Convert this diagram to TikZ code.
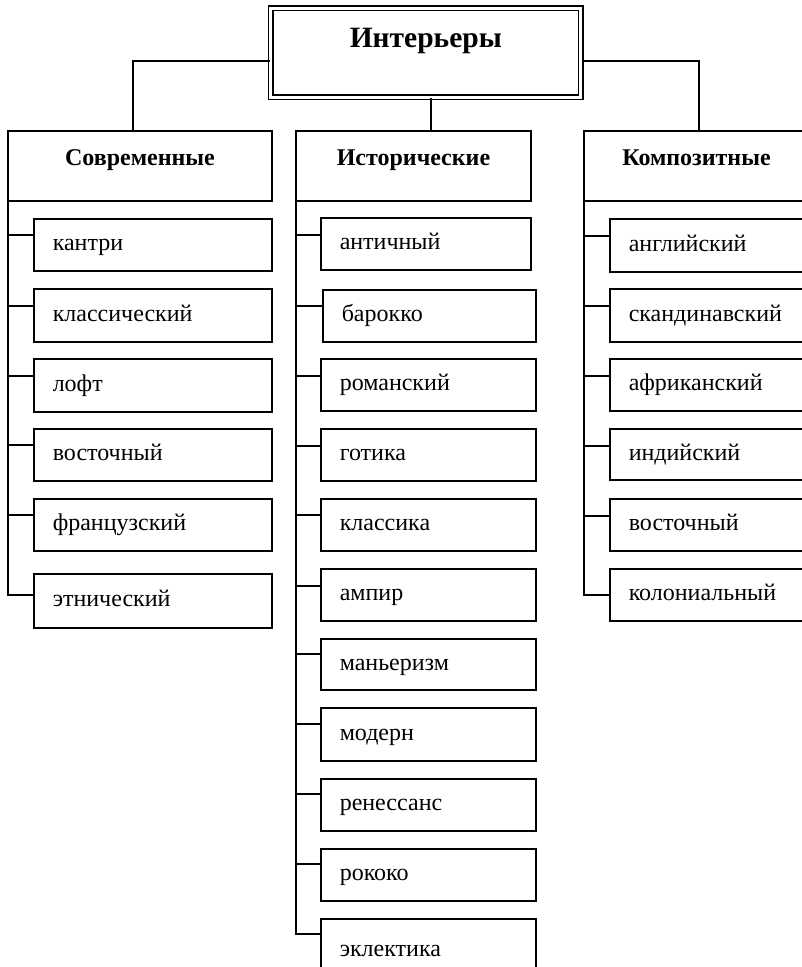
\documentclass[tikz,border=0pt]{standalone}
\usepackage{fontspec}
\setmainfont{Liberation Serif}
\newcommand\leaffont{\fontsize{24pt}{28pt}\selectfont}
\newcommand\hdrfont{\bfseries\fontsize{24pt}{28pt}\selectfont}
\newcommand\ttlfont{\bfseries\fontsize{29.5pt}{34pt}\selectfont}
\begin{document}
\begin{tikzpicture}[x=1pt,y=-1pt,
  leaf/.style={draw,line width=1.5pt,rectangle,anchor=north west,inner xsep=19pt,inner ysep=0pt,
    text height=12pt,text depth=0pt,align=left,font=\leaffont},
  hdr/.style={draw,line width=2pt,rectangle,anchor=north west,inner sep=0pt,
    text height=16pt,text depth=18pt,font=\hdrfont,minimum height=70pt},
  ttl/.style={draw,line width=1.6pt,double,double distance=3pt,rectangle,anchor=north west,inner sep=0pt,
    text height=20pt,text depth=30pt,font=\ttlfont},
  conn/.style={line width=1.5pt}]
\useasboundingbox (0,0) rectangle (802,967);
\clip (0,0) rectangle (802,967);

% title
\node[ttl,minimum width=310pt,minimum height=89pt] (top) at (270,7.5) {Интерьеры};

% headers
\node[hdr,minimum width=264pt] (sov) at (7,130) {Современные};
\node[hdr,minimum width=235pt] (ist) at (295,130) {Исторические};
\node[hdr,minimum width=225pt] (kom) at (583,130) {Композитные};

% top connectors
\coordinate (hl) at (0,61);
\draw[conn] (top.west |- hl) -| ([xshift=-7pt]sov.north);
\draw[conn] (top.east |- hl) -| ([xshift=2.5pt]kom.north);
\draw[conn] ([xshift=5pt]top.south) -- ([xshift=5pt]top.south |- ist.north);

% trunks
\coordinate (tA) at ([xshift=1pt]sov.south west);
\coordinate (tB) at ([xshift=1pt]ist.south west);
\coordinate (tC) at ([xshift=1pt]kom.south west);

% left column
\foreach \i/\t/\h/\b/\txt in {
  1/218/52/235/кантри,
  2/288/53/306/классический,
  3/358/53/376/лофт,
  4/428/52/445/восточный,
  5/498/52/515/французский,
  6/573/54/595/этнический}{
  \node[leaf,text width=200pt,minimum height=\h pt] (A\i) at (33,\t) {\txt};
  \coordinate (bA\i) at (0,\b);
}
\draw[conn] (tA) |- (A6.west |- bA6);
\foreach \i in {1,...,5}{ \draw[conn] (tA |- bA\i) -- (A\i.west |- bA\i); }

% centre column
\foreach \i/\x/\w/\t/\h/\b/\txt in {
  1/320/172/217/52/235/античный,
  2/322/175/289/52/306/барокко,
  3/320/177/358/52/376/романский,
  4/320/177/428/52/446/готика,
  5/320/177/498/52/515/классика,
  6/320/177/568/52/586/ампир,
  7/320/177/638/51/654/маньеризм,
  8/320/177/707/53/724/модерн,
  9/320/177/778/52/794/ренессанс,
  10/320/177/848/52/864/рококо,
  11/320/177/918/64/934/эклектика}{
  \node[leaf,text width=\w pt,minimum height=\h pt] (B\i) at (\x,\t) {\txt};
  \coordinate (bB\i) at (0,\b);
}
\draw[conn] (tB) |- (B11.west |- bB11);
\foreach \i in {1,...,10}{ \draw[conn] (tB |- bB\i) -- (B\i.west |- bB\i); }

% right column
\foreach \i/\t/\h/\b/\txt in {
  1/218/53/236/английский,
  2/288/53/306/скандинавский,
  3/358/52/376/африканский,
  4/428/51/446/индийский,
  5/498/52/516/восточный,
  6/568/52/595/колониальный}{
  \node[leaf,text width=183pt,minimum height=\h pt] (C\i) at (609,\t) {\txt};
  \coordinate (bC\i) at (0,\b);
}
\draw[conn] (tC) |- (C6.west |- bC6);
\foreach \i in {1,...,5}{ \draw[conn] (tC |- bC\i) -- (C\i.west |- bC\i); }
\end{tikzpicture}
\end{document}
